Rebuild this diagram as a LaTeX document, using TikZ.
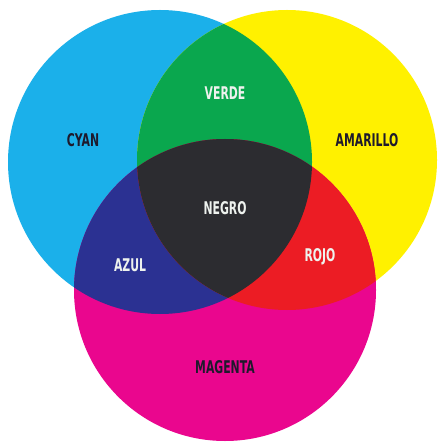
\documentclass[tikz,border=0pt]{standalone}
\usepackage{fontspec}
\newfontfamily\lblfont{DejaVu Sans}
\definecolor{cmycyan}{HTML}{1BB0EA}
\definecolor{cmyyellow}{HTML}{FFF100}
\definecolor{cmymagenta}{HTML}{EA068E}
\definecolor{cmygreen}{HTML}{0AA74E}
\definecolor{cmyblue}{HTML}{2B3192}
\definecolor{cmyred}{HTML}{EC1C24}
\definecolor{cmyblack}{HTML}{2C2C30}
\definecolor{darktext}{HTML}{1E1A2C}
\definecolor{lighttext}{HTML}{EEF2EE}
\newcommand{\lbl}[1]{\scalebox{0.62}[1]{\lblfont\bfseries #1}}

\begin{document}
\begin{tikzpicture}[x=1pt,y=-1pt]

\tikzstyle{darklabel}=[text=darktext, font=\fontsize{17.5}{18}\selectfont, inner sep=0pt]
\tikzstyle{lightlabel}=[text=lighttext, font=\fontsize{17.5}{18}\selectfont, inner sep=0pt]

\useasboundingbox (0,0) rectangle (437,443);
\fill[white] (0,0) rectangle (437,443);

% the three circles
\def\cyanpath{(160,162) circle[radius=152]}
\def\yellowpath{(287,160) circle[radius=150]}
\def\magentapath{(225,290) circle[radius=151]}

\fill[cmycyan] \cyanpath;
\fill[cmyyellow] \yellowpath;
\fill[cmymagenta] \magentapath;

% overlaps
\begin{scope}
    \clip \cyanpath;
    \fill[cmygreen] \yellowpath;
    \fill[cmyblue] \magentapath;
\end{scope}
\begin{scope}
    \clip \yellowpath;
    \fill[cmyred] \magentapath;
    \clip \cyanpath;
    \fill[cmyblack] \magentapath;
\end{scope}

% labels
\foreach \name/\txt/\x/\y in {cyan/CYAN/83/140, amarillo/AMARILLO/367/140, magenta/MAGENTA/225/367} {
    \node[darklabel] (\name) at (\x,\y) {\lbl{\txt}};
}
\foreach \name/\txt/\x/\y in {verde/VERDE/225/93, negro/NEGRO/225/208, azul/AZUL/130/265, rojo/ROJO/320/257} {
    \node[lightlabel] (\name) at (\x,\y) {\lbl{\txt}};
}

\end{tikzpicture}
\end{document}
